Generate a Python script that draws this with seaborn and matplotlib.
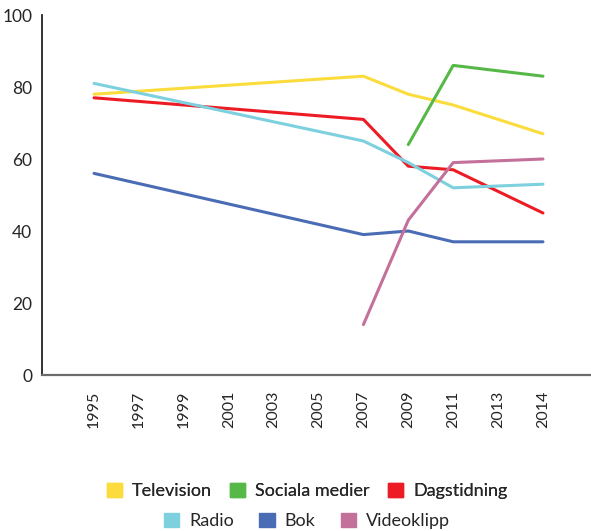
import pandas as pd
import numpy as np
import matplotlib
matplotlib.use("Agg")
import matplotlib.pyplot as plt
import matplotlib.patches as mpatches
import seaborn as sns

# ==========================================
# DATA
# ==========================================
years = ["1995", "1997", "1999", "2001", "2003", "2005",
         "2007", "2009", "2011", "2013", "2014"]

# values only where the source has them (None = no value that year)
television = [78, None, None, None, None, None, 83, 78, 75, None, 67]
sociala_medier = [None, None, None, None, None, None, None, 64, 86, None, 83]
dagstidning = [77, None, None, None, None, None, 71, 58, 57, None, 45]
radio = [81, None, None, None, None, None, 65, 59, 52, None, 53]
bok = [56, None, None, None, None, None, 39, 40, 37, None, 37]
videoklipp = [None, None, None, None, None, None, 14, 43, 59, None, 60]

series_names = ["Television", "Sociala medier", "Dagstidning",
                "Radio", "Bok", "Videoklipp"]
series_values = [television, sociala_medier, dagstidning,
                 radio, bok, videoklipp]
colors = ["#fbdc3c", "#56b947", "#ed1c24", "#7dd0de", "#4a6cb5", "#c3709b"]

# long format table for seaborn
rows = []
for name, vals in zip(series_names, series_values):
    for i, v in enumerate(vals):
        if v is not None:
            rows.append({"pos": i, "value": v, "serie": name})
df = pd.DataFrame(rows)

# ==========================================
# PLOT
# ==========================================
sns.set_style("white")
plt.rcParams["font.family"] = ["Lato", "DejaVu Sans"]

fig = plt.figure(figsize=(5.91, 5.31), dpi=100)
ax = fig.add_axes([42 / 591, 1 - 375 / 531, 1 - 42 / 591, 360 / 531])

sns.lineplot(data=df, x="pos", y="value", hue="serie",
             hue_order=series_names, palette=colors,
             linewidth=2.2, legend=False, ax=ax)

ax.set_xlim(-1.16, 11.07)
ax.set_ylim(0, 100)
ax.set_xticks(range(len(years)))
ax.set_xticklabels(years, rotation=90, fontsize=11.5)
ax.set_yticks([0, 20, 40, 60, 80, 100])
ax.set_yticklabels(["0", "20", "40", "60", "80", "100"], fontsize=12.5)
ax.tick_params(axis="x", length=0, pad=11)
ax.tick_params(axis="y", direction="in", length=9.5, width=1.3,
               color="#222222", pad=7)
ax.set_xlabel("")
ax.set_ylabel("")

for side in ["top", "right"]:
    ax.spines[side].set_visible(False)
ax.spines["left"].set_color("#222222")
ax.spines["left"].set_linewidth(1.3)
ax.spines["bottom"].set_color("#6b6b6b")
ax.spines["bottom"].set_linewidth(1.6)

# ==========================================
# LEGEND (two centred rows)
# ==========================================
handles = [mpatches.Patch(color=c, label=n) for n, c in zip(series_names, colors)]

leg_kw = dict(loc="center", ncol=3, frameon=False, fontsize=13,
              handlelength=0.85, handleheight=0.85, handletextpad=0.55)
leg1 = fig.legend(handles=handles[:3],
                  bbox_to_anchor=(307 / 591, 1 - 491 / 531),
                  columnspacing=1.0, **leg_kw)
leg2 = fig.legend(handles=handles[3:],
                  bbox_to_anchor=(307 / 591, 1 - 521 / 531),
                  columnspacing=1.4, **leg_kw)
fig.add_artist(leg1)

fig.savefig("out.png", dpi=100)
